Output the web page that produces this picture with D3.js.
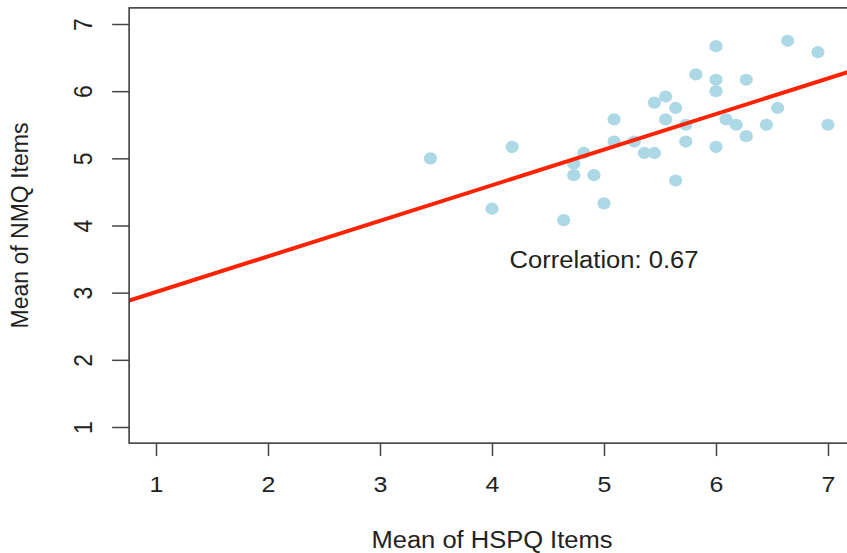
<!DOCTYPE html>
<html>
<head>
<meta charset="utf-8">
<script src="https://cdn.jsdelivr.net/npm/d3@7"></script>
<style>
  html, body { margin: 0; padding: 0; background: #fff; }
  svg { display: block; }
  text { font-family: "Liberation Sans", Arial, Helvetica, sans-serif; fill: #222; }
</style>
</head>
<body>
<svg id="chart" width="847" height="553"></svg>
<script>
// ---- data ----
const hspq = [3.45, 4.18, 4.00, 4.64, 4.73, 4.73, 4.82, 4.91, 5.00, 5.09, 5.09, 5.27, 5.36, 5.45, 5.45, 5.55, 5.55, 5.64, 5.64, 5.73, 5.73, 5.82, 6.00, 6.00, 6.00, 6.00, 6.09, 6.18, 6.27, 6.27, 6.45, 6.55, 6.64, 6.91, 7.00];
const nmq  = [5.00, 5.17, 4.25, 4.08, 4.92, 4.75, 5.08, 4.75, 4.33, 5.58, 5.25, 5.25, 5.08, 5.08, 5.83, 5.92, 5.58, 5.75, 4.67, 5.50, 5.25, 6.25, 6.67, 6.17, 6.00, 5.17, 5.58, 5.50, 6.17, 5.33, 5.50, 5.75, 6.75, 6.58, 5.50];
const xTicks = [1, 2, 3, 4, 5, 6, 7];
const yTicks = [1, 2, 3, 4, 5, 6, 7];
const fitIntercept = 2.48;
const fitSlope = 0.53;
const xLabel = "Mean of HSPQ Items";
const yLabel = "Mean of NMQ Items";
const note = "Correlation: 0.67";
const notePos = [5.0, 3.5];
const lim = [0.76, 7.24];

(function () {
// ---- layout ----
const svg = d3.select("#chart");
const x = d3.scaleLinear().domain([1, 7]).range([156, 828]);
const y = d3.scaleLinear().domain([1, 7]).range([427, 24]);
const fs = 23;
const stretch = 1.085;

const pLeft = x(lim[0]), pRight = x(lim[1]), pTop = y(lim[1]), pBottom = y(lim[0]);

svg.append("clipPath").attr("id", "plotclip")
  .append("rect").attr("x", pLeft).attr("y", pTop)
  .attr("width", pRight - pLeft).attr("height", pBottom - pTop);

// points
svg.append("g").selectAll("ellipse")
  .data(hspq.map((v, i) => [v, nmq[i]]))
  .join("ellipse")
  .attr("cx", d => x(d[0]))
  .attr("cy", d => y(d[1]))
  .attr("rx", 6.6).attr("ry", 6.1)
  .attr("fill", "#add8e6");

// regression line
svg.append("line")
  .attr("clip-path", "url(#plotclip)")
  .attr("x1", x(lim[0])).attr("y1", y(fitIntercept + fitSlope * lim[0]))
  .attr("x2", x(lim[1])).attr("y2", y(fitIntercept + fitSlope * lim[1]))
  .attr("stroke", "#ff2200").attr("stroke-width", 4);

// box
svg.append("rect")
  .attr("x", pLeft).attr("y", pTop)
  .attr("width", pRight - pLeft).attr("height", pBottom - pTop)
  .attr("fill", "none").attr("stroke", "#333").attr("stroke-width", 1.5);

// x axis
const xAxis = d3.axisBottom(x).tickValues(xTicks).tickSize(13).tickPadding(0).tickFormat(d3.format("d"));
const gx = svg.append("g").attr("transform", `translate(0,${pBottom})`).call(xAxis);
gx.select(".domain").remove();
gx.selectAll(".tick line").attr("stroke", "#444").attr("stroke-width", 1.5);
gx.selectAll(".tick text")
  .attr("y", 0).attr("dy", 0).attr("x", 0)
  .attr("transform", `translate(0,${492 - pBottom}) scale(${stretch},1)`)
  .style("font-size", fs + "px").style("fill", "#222");

// y axis
const yAxis = d3.axisLeft(y).tickValues(yTicks).tickSize(17).tickPadding(0).tickFormat(d3.format("d"));
const gy = svg.append("g").attr("transform", `translate(${pLeft},0)`).call(yAxis);
gy.select(".domain").remove();
gy.selectAll(".tick line").attr("stroke", "#444").attr("stroke-width", 1.5);
gy.selectAll(".tick text")
  .attr("x", 0).attr("y", 0).attr("dy", 0)
  .attr("transform", `translate(${92 - pLeft},0) scale(${stretch},1) rotate(-90)`)
  .attr("text-anchor", "middle")
  .style("font-size", fs + "px").style("fill", "#222");

// axis titles
svg.append("text")
  .attr("x", (x(1) + x(7)) / 2).attr("y", 548)
  .attr("text-anchor", "middle")
  .attr("textLength", 241).attr("lengthAdjust", "spacingAndGlyphs")
  .style("font-size", fs + "px")
  .text(xLabel);

svg.append("text")
  .attr("transform", `translate(28,${(y(1) + y(7)) / 2}) rotate(-90)`)
  .attr("text-anchor", "middle")
  .style("font-size", fs + "px")
  .text(yLabel);

// annotation
svg.append("text")
  .attr("x", x(notePos[0])).attr("y", y(notePos[1]) + 8.5)
  .attr("text-anchor", "middle")
  .attr("textLength", 189).attr("lengthAdjust", "spacingAndGlyphs")
  .style("font-size", fs + "px")
  .text(note);
})();
</script>
</body>
</html>
